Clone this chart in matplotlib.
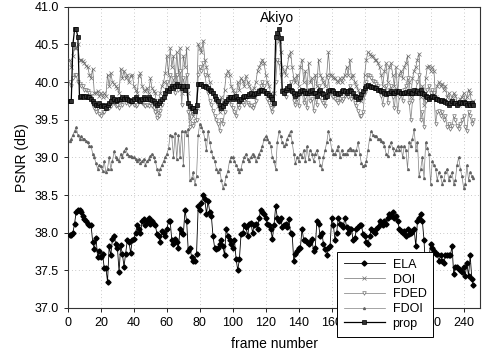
import matplotlib
matplotlib.use("Agg")
import matplotlib.pyplot as plt
import numpy as np

plt.rcParams['font.family'] = ['Liberation Sans', 'DejaVu Sans']

ela = [
37.97, 37.97, 38.00, 38.12, 38.28, 38.30, 38.30, 38.27, 38.22, 38.18,
38.15, 38.12, 38.10, 38.10, 37.88, 37.78, 37.93, 37.68, 37.75, 37.68,
37.72, 37.53, 37.53, 37.35, 37.82, 37.70, 37.92, 37.95, 37.85, 37.80,
37.48, 37.83, 37.72, 37.55, 37.72, 37.90, 37.88, 37.73, 37.90, 37.92,
38.00, 38.10, 38.05, 38.00, 38.15, 38.18, 38.10, 38.15, 38.20, 38.12,
38.15, 38.12, 38.10, 37.98, 37.95, 37.88, 38.02, 38.00, 37.95, 38.05,
38.15, 38.15, 37.90, 37.85, 37.92, 37.88, 37.80, 38.05, 38.00, 37.98,
38.30, 38.15, 37.75, 37.80, 37.68, 37.62, 37.62, 37.72, 38.35, 38.30,
38.40, 38.50, 38.45, 38.25, 38.42, 38.28, 38.22, 37.95, 37.80, 37.78,
37.80, 37.85, 37.90, 37.82, 37.70, 38.05, 37.95, 37.90, 37.85, 37.80,
37.90, 37.65, 37.50, 37.65, 37.98, 38.00, 38.10, 38.08, 37.95, 38.12,
38.13, 38.00, 38.10, 38.12, 38.05, 38.20, 38.30, 38.28, 38.25, 38.20,
38.12, 38.10, 38.05, 37.92, 38.10, 38.35, 38.20, 38.15, 38.20, 38.08,
38.10, 38.12, 38.08, 38.18, 38.00, 37.98, 37.62, 37.72, 37.75, 37.80,
37.80, 38.05, 37.90, 37.90, 37.88, 37.85, 37.88, 37.92, 37.75, 37.80,
38.15, 38.12, 37.95, 38.00, 37.85, 37.78, 37.70, 37.80, 37.82, 38.20,
38.10, 37.90, 38.00, 38.20, 38.12, 38.10, 38.08, 38.20, 38.08, 38.00,
38.05, 38.05, 37.90, 37.93, 38.05, 38.08, 38.10, 38.10, 37.98, 37.95,
37.88, 37.85, 37.95, 38.05, 38.02, 38.00, 38.05, 38.08, 38.15, 38.12,
38.10, 38.15, 38.12, 38.20, 38.25, 38.22, 38.28, 38.20, 38.22, 38.15,
38.05, 38.02, 38.00, 38.02, 37.95, 38.05, 37.98, 38.00, 38.02, 38.05,
37.82, 38.15, 38.20, 38.25, 38.15, 37.90, 37.48, 37.40, 37.65, 37.85,
37.80, 37.75, 37.72, 37.72, 37.62, 37.70, 37.62, 37.60, 37.70, 37.70,
37.70, 37.70, 37.82, 37.45, 37.55, 37.55, 37.52, 37.50, 37.48, 37.55,
37.42, 37.60, 37.42, 37.70, 37.38, 37.30]

doi = [
40.30, 40.20, 40.35, 40.45, 40.45, 40.50, 40.30, 40.30, 40.28, 40.25,
40.22, 40.20, 40.10, 40.05, 40.18, 39.85, 39.85, 39.88, 39.82, 39.85,
39.80, 39.85, 39.82, 40.10, 39.95, 40.12, 40.00, 39.98, 39.95, 39.92,
39.85, 40.18, 40.05, 40.15, 40.05, 40.10, 40.00, 40.08, 40.10, 39.95,
39.90, 39.85, 40.08, 40.12, 39.95, 39.90, 39.88, 39.92, 39.85, 40.05,
39.92, 39.88, 39.85, 39.60, 39.75, 39.85, 39.95, 40.00, 40.12, 40.35,
40.10, 40.45, 40.20, 40.35, 40.00, 40.40, 40.10, 40.45, 39.85, 40.35,
40.20, 40.45, 39.85, 39.50, 39.60, 39.55, 39.60, 39.65, 40.50, 40.45,
40.40, 40.55, 40.30, 40.20, 40.10, 40.00, 39.90, 39.85, 39.78, 39.75,
39.68, 39.60, 39.80, 39.70, 39.90, 40.10, 40.15, 40.10, 39.95, 39.90,
39.85, 39.78, 40.00, 39.90, 40.05, 40.02, 39.95, 40.08, 40.00, 39.95,
39.90, 39.85, 39.92, 40.00, 40.15, 40.20, 40.25, 40.30, 40.25, 40.10,
40.00, 39.95, 39.85, 39.70, 39.85, 40.30, 40.60, 40.55, 40.40, 40.20,
40.15, 40.10, 40.20, 40.35, 40.40, 40.20, 40.05, 40.00, 40.10, 39.95,
40.20, 40.30, 40.00, 40.15, 39.90, 40.25, 40.00, 40.05, 39.85, 40.10,
39.95, 40.30, 40.10, 40.05, 40.00, 39.95, 40.10, 40.40, 40.10, 40.10,
40.05, 40.05, 40.02, 40.00, 40.05, 40.00, 40.05, 40.10, 40.20, 40.10,
40.30, 40.05, 40.10, 40.00, 39.95, 39.90, 39.80, 39.75, 39.80, 40.10,
40.30, 40.40, 40.38, 40.35, 40.35, 40.30, 40.30, 40.25, 40.20, 40.10,
39.95, 40.15, 40.25, 40.00, 40.20, 40.25, 40.10, 39.95, 40.20, 39.85,
40.10, 40.15, 40.05, 40.20, 40.25, 40.35, 40.00, 39.80, 40.05, 40.15,
40.20, 40.30, 40.38, 39.80, 39.95, 39.70, 40.05, 40.20, 40.22, 40.15,
40.20, 40.15, 39.80, 39.95, 40.00, 39.95, 39.98, 39.90, 39.95, 39.80,
39.85, 39.75, 39.80, 39.85, 39.82, 39.75, 39.70, 39.78, 39.80, 39.85,
39.75, 39.80, 39.90, 39.85, 39.70, 39.75]

fded = [
40.00, 39.95, 40.05, 40.10, 40.10, 40.00, 39.98, 39.95, 39.95, 39.90,
39.90, 39.88, 39.85, 39.82, 39.70, 39.65, 39.60, 39.65, 39.58, 39.55,
39.60, 39.60, 39.65, 39.70, 39.65, 39.68, 39.75, 39.72, 39.68, 39.70,
39.65, 39.75, 39.70, 39.78, 39.72, 39.75, 39.70, 39.72, 39.75, 39.70,
39.68, 39.70, 39.75, 39.78, 39.72, 39.70, 39.68, 39.70, 39.68, 39.72,
39.68, 39.65, 39.60, 39.52, 39.55, 39.62, 39.70, 39.78, 39.85, 40.00,
39.90, 40.10, 39.95, 40.05, 39.85, 40.10, 39.90, 40.15, 39.70, 40.05,
39.95, 40.10, 39.60, 39.40, 39.45, 39.42, 39.48, 39.50, 40.10, 40.20,
40.15, 40.25, 40.10, 39.95, 39.85, 39.75, 39.70, 39.62, 39.55, 39.50,
39.45, 39.35, 39.50, 39.45, 39.60, 39.75, 39.80, 39.75, 39.70, 39.65,
39.60, 39.55, 39.70, 39.65, 39.75, 39.72, 39.70, 39.78, 39.72, 39.70,
39.68, 39.65, 39.70, 39.75, 39.85, 39.90, 39.95, 40.00, 39.95, 39.85,
39.78, 39.72, 39.65, 39.60, 39.70, 40.00, 40.30, 40.25, 40.10, 39.90,
39.85, 39.80, 39.88, 39.95, 40.00, 39.85, 39.75, 39.70, 39.78, 39.68,
39.85, 39.90, 39.72, 39.80, 39.65, 39.90, 39.75, 39.78, 39.62, 39.80,
39.70, 39.95, 39.80, 39.75, 39.72, 39.68, 39.80, 40.05, 39.85, 39.82,
39.80, 39.78, 39.75, 39.72, 39.78, 39.75, 39.78, 39.82, 39.88, 39.80,
39.95, 39.78, 39.80, 39.72, 39.68, 39.62, 39.55, 39.55, 39.60, 39.85,
40.00, 40.10, 40.08, 40.05, 40.02, 40.00, 39.98, 39.95, 39.90, 39.82,
39.70, 39.85, 39.95, 39.72, 39.90, 39.95, 39.80, 39.65, 39.90, 39.60,
39.80, 39.85, 39.75, 39.90, 39.95, 40.05, 39.72, 39.50, 39.75, 39.85,
39.90, 40.00, 40.10, 39.50, 39.60, 39.40, 39.75, 39.90, 39.95, 39.85,
39.90, 39.85, 39.45, 39.60, 39.62, 39.55, 39.60, 39.50, 39.55, 39.40,
39.45, 39.38, 39.42, 39.55, 39.50, 39.42, 39.38, 39.45, 39.50, 39.55,
39.40, 39.35, 39.60, 39.55, 39.45, 39.50]

fdoi = [
39.22, 39.25, 39.30, 39.35, 39.40, 39.30, 39.25, 39.28, 39.25, 39.25,
39.22, 39.20, 39.15, 39.15, 39.05, 39.00, 38.92, 38.85, 38.90, 38.88,
38.82, 38.95, 38.80, 38.85, 39.00, 38.85, 38.95, 39.08, 39.00, 38.98,
38.95, 39.05, 39.00, 39.08, 39.12, 39.05, 39.02, 39.02, 39.00, 39.00,
38.98, 38.95, 38.98, 38.92, 38.95, 38.98, 38.90, 38.95, 38.98, 39.02,
39.05, 39.00, 38.95, 38.85, 38.78, 38.85, 38.90, 38.95, 39.00, 39.05,
39.12, 39.30, 39.28, 39.00, 39.32, 38.98, 39.30, 39.00, 39.35, 38.90,
39.35, 39.30, 39.38, 38.70, 38.72, 38.80, 38.65, 38.75, 39.30, 39.45,
39.40, 39.35, 39.25, 39.10, 39.35, 39.20, 39.08, 39.00, 38.95, 38.85,
38.80, 38.85, 38.70, 38.60, 38.65, 38.75, 38.82, 38.95, 39.00, 39.00,
38.95, 38.90, 38.85, 38.80, 38.85, 38.95, 39.00, 39.05, 38.98, 38.95,
39.00, 39.05, 39.02, 38.95, 39.00, 39.05, 39.10, 39.15, 39.25, 39.28,
39.25, 39.20, 39.15, 39.00, 38.95, 38.85, 39.20, 39.35, 39.28, 39.20,
39.15, 39.18, 39.25, 39.30, 39.35, 39.20, 39.05, 38.92, 39.00, 38.95,
39.05, 39.00, 39.10, 38.95, 39.15, 38.98, 39.10, 39.05, 38.95, 39.05,
39.10, 39.00, 38.90, 38.85, 39.00, 39.10, 39.20, 39.35, 39.25, 39.10,
39.05, 39.05, 39.10, 39.15, 39.00, 39.10, 39.05, 39.05, 39.05, 39.10,
39.12, 39.10, 39.10, 39.05, 39.10, 39.20, 39.05, 38.92, 38.88, 38.90,
38.95, 39.10, 39.25, 39.35, 39.30, 39.28, 39.28, 39.25, 39.25, 39.22,
39.20, 39.15, 39.05, 39.02, 39.15, 39.20, 39.12, 39.05, 39.10, 39.15,
39.10, 39.15, 39.00, 39.15, 39.10, 38.85, 39.20, 39.15, 39.25, 39.38,
39.10, 39.20, 38.75, 38.85, 39.00, 38.72, 39.20, 39.12, 39.05, 38.65,
38.95, 38.90, 38.85, 38.70, 38.80, 38.75, 38.65, 38.70, 38.80, 38.85,
38.70, 38.75, 38.80, 38.65, 38.70, 38.90, 39.00, 38.85, 38.75, 38.60,
38.65, 38.90, 38.70, 38.80, 38.75, 38.72]

prop = [
39.75, 39.75, 40.50, 40.70, 40.70, 40.60, 39.80, 39.82, 39.82, 39.80,
39.82, 39.80, 39.80, 39.78, 39.75, 39.72, 39.70, 39.70, 39.72, 39.68,
39.70, 39.68, 39.66, 39.70, 39.72, 39.75, 39.80, 39.78, 39.75, 39.76,
39.78, 39.78, 39.80, 39.78, 39.80, 39.78, 39.76, 39.75, 39.75, 39.78,
39.80, 39.78, 39.76, 39.75, 39.78, 39.80, 39.78, 39.78, 39.80, 39.78,
39.76, 39.75, 39.72, 39.70, 39.72, 39.75, 39.78, 39.80, 39.85, 39.90,
39.88, 39.92, 39.95, 39.92, 39.95, 39.98, 39.95, 39.95, 39.92, 39.95,
39.90, 39.95, 39.72, 39.68, 39.66, 39.65, 39.62, 39.70, 39.98, 39.98,
39.97, 39.95, 39.95, 39.93, 39.92, 39.90, 39.88, 39.85, 39.82, 39.78,
39.75, 39.70, 39.65, 39.68, 39.72, 39.75, 39.78, 39.80, 39.80, 39.78,
39.80, 39.82, 39.78, 39.75, 39.78, 39.80, 39.82, 39.82, 39.82, 39.84,
39.85, 39.82, 39.84, 39.85, 39.86, 39.88, 39.90, 39.90, 39.88, 39.86,
39.85, 39.83, 39.80, 39.78, 39.72, 40.60, 40.65, 40.70, 40.58, 39.88,
39.86, 39.90, 39.92, 39.95, 39.90, 39.88, 39.85, 39.82, 39.84, 39.85,
39.88, 39.90, 39.88, 39.86, 39.85, 39.86, 39.88, 39.90, 39.86, 39.85,
39.82, 39.88, 39.90, 39.86, 39.84, 39.80, 39.82, 39.88, 39.90, 39.90,
39.88, 39.86, 39.85, 39.84, 39.86, 39.88, 39.90, 39.88, 39.86, 39.88,
39.90, 39.88, 39.85, 39.82, 39.80, 39.78, 39.80, 39.84, 39.88, 39.92,
39.95, 39.96, 39.95, 39.94, 39.93, 39.92, 39.92, 39.90, 39.90, 39.88,
39.88, 39.85, 39.84, 39.85, 39.86, 39.88, 39.85, 39.86, 39.88, 39.87,
39.88, 39.86, 39.85, 39.86, 39.87, 39.86, 39.88, 39.86, 39.86, 39.90,
39.85, 39.88, 39.85, 39.90, 39.86, 39.84, 39.82, 39.80, 39.78, 39.80,
39.82, 39.80, 39.78, 39.78, 39.76, 39.75, 39.76, 39.75, 39.74, 39.72,
39.70, 39.72, 39.75, 39.72, 39.72, 39.70, 39.72, 39.74, 39.72, 39.74,
39.72, 39.70, 39.72, 39.70, 39.72, 39.70]

labels = ['ELA', 'DOI', 'FDED', 'FDOI', 'prop']
title = 'Akiyo'

fig = plt.figure(figsize=(4.82, 3.61), dpi=100)
ax = fig.add_axes([0.141, 0.147, 0.855, 0.834])

def frames(v):
    return np.arange(1, len(v) + 1)

h_ela, = ax.plot(frames(ela), ela, color='black', lw=0.6, marker='D', ms=2.6,
                 mfc='black', mec='black', zorder=5)
h_doi, = ax.plot(frames(doi), doi, color='#707070', lw=0.5, marker='x', ms=2.5,
                 mew=0.5, zorder=3)
h_fded, = ax.plot(frames(fded), fded, color='#909090', lw=0.6, marker='v', ms=2.6,
                  mfc='white', mec='#707070', mew=0.5, zorder=3)
h_fdoi, = ax.plot(frames(fdoi), fdoi, color='#808080', lw=0.5, marker='^', ms=1.4,
                  mfc='#606060', mec='#606060', zorder=3)
h_prop, = ax.plot(frames(prop), prop, color='black', lw=0.9, marker='s', ms=2.8,
                  mfc='#303030', mec='black', mew=0.5, zorder=4)

ax.set_xlim(0, 250)
ax.set_ylim(37.0, 41.0)
ax.set_xticks(np.arange(0, 241, 20))
ax.set_yticks(np.arange(37.0, 41.01, 0.5))
ax.set_yticklabels([f'{v:.1f}' for v in np.arange(37.0, 41.01, 0.5)])
ax.tick_params(labelsize=9, length=3, width=0.6, direction='out')
ax.grid(True, color='#999999', lw=0.5, ls=(0, (1, 4)))
for s in ax.spines.values():
    s.set_linewidth(0.8)
    s.set_color('#333333')

ax.set_ylabel('PSNR (dB)', fontsize=10)
ax.set_xlabel('frame number', fontsize=10, labelpad=6)
ax.text(127, 40.85, title, ha='center', va='center', fontsize=10)

leg = fig.legend([h_ela, h_doi, h_fded, h_fdoi, h_prop], labels,
                 loc='upper left', bbox_to_anchor=(0.699, 0.302),
                 bbox_transform=fig.transFigure, borderaxespad=0.0,
                 fontsize=9, frameon=True, fancybox=False, framealpha=1.0,
                 handlelength=3.3, labelspacing=0.22, borderpad=0.55,
                 handletextpad=0.6)
leg.get_frame().set_edgecolor('black')
leg.get_frame().set_linewidth(0.7)
leg.set_zorder(20)

fig.savefig('out.png', dpi=100)
